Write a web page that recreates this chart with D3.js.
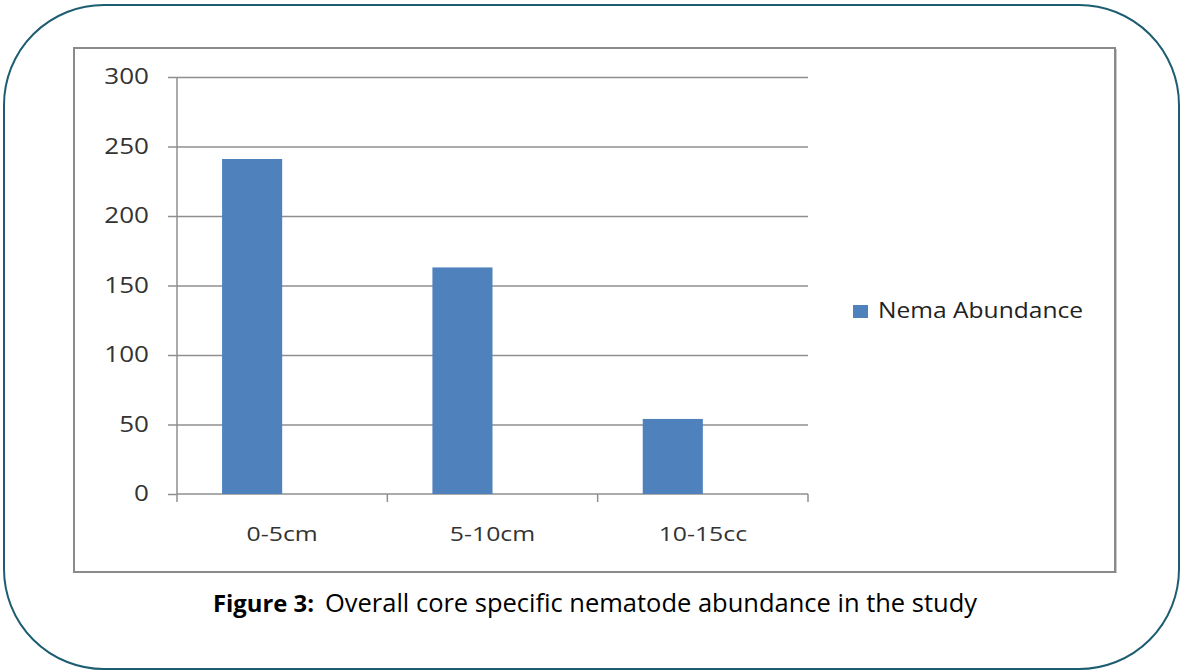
<!DOCTYPE html>
<html>
<head>
<meta charset="utf-8">
<script src="https://cdn.jsdelivr.net/npm/d3@7"></script>
<style>
  body { margin: 0; background: #fff; }
  svg { display: block; }
</style>
</head>
<body>
<svg id="chart" width="1181" height="670" viewBox="0 0 1181 670"></svg>
<script>
// data
const categories = ["0-5cm", "5-10cm", "10-15cc"];
const seriesNames = ["Nema Abundance", ""]; // second slot is empty in the original
const abundance = [241, 163, 54];
const yTicks = [0, 50, 100, 150, 200, 250, 300];
const captionBold = "Figure 3:";
const captionText = "Overall core specific nematode abundance in the study";

const svg = d3.select("#chart");
const barColor = "#4f81bd";
const gridColor = "#8f8f8f";
const sx = 1.24; // chart image looks stretched sideways

// outer rounded frame
svg.append("rect")
  .attr("x", 4).attr("y", 5)
  .attr("width", 1175).attr("height", 664)
  .attr("rx", 100).attr("ry", 100)
  .attr("fill", "none")
  .attr("stroke", "#1d5d72")
  .attr("stroke-width", 2);

// chart box
svg.append("rect")
  .attr("x", 74).attr("y", 48)
  .attr("width", 1041).attr("height", 524)
  .attr("fill", "#fff")
  .attr("stroke", "#8a8a8a")
  .attr("stroke-width", 2);
svg.append("line")
  .attr("x1", 1116.5).attr("x2", 1116.5)
  .attr("y1", 49).attr("y2", 573)
  .attr("stroke", "#c8c8c8").attr("stroke-width", 1);

const margin = { left: 177, top: 77 };
const width = 808 - 177;
const height = 494 - 77;

const g = svg.append("g")
  .attr("transform", `translate(${margin.left},${margin.top})`);

const x = d3.scaleBand().domain(categories).range([0, width]);
// excel style: two series slots, gap width 150%
const xInner = d3.scaleBand()
  .domain(seriesNames)
  .range([0, x.bandwidth()])
  .paddingInner(0)
  .paddingOuter(0.75);
const y = d3.scaleLinear().domain([0, 300]).range([height, 0]);

// gridlines
g.append("g")
  .call(d3.axisLeft(y).tickValues(yTicks.slice(1)).tickSize(-width).tickFormat(""))
  .call(a => a.select(".domain").remove())
  .call(a => a.selectAll("line").attr("stroke", gridColor).attr("stroke-width", 1.5));

// y axis
g.append("g")
  .call(d3.axisLeft(y).tickValues(yTicks).tickSize(9).tickPadding(0))
  .call(a => a.select(".domain").attr("d", `M0,${height}V0`).attr("stroke", gridColor).attr("stroke-width", 1.5))
  .call(a => a.selectAll("line").attr("stroke", gridColor).attr("stroke-width", 1.5))
  .call(a => a.selectAll("text")
    .attr("x", -28 / sx)
    .attr("transform", `scale(${sx},1)`)
    .attr("fill", "#333")
    .style("font-family", "'Open Sans', sans-serif")
    .style("font-size", "21px"));

// x axis
const xAxis = g.append("g")
  .attr("transform", `translate(0,${height})`)
  .call(d3.axisBottom(x).tickSize(0).tickPadding(0))
  .call(a => a.select(".domain").attr("d", `M0,0H${width}`).attr("stroke", gridColor).attr("stroke-width", 1.5))
  .call(a => a.selectAll("text")
    .attr("y", 33)
    .attr("transform", `scale(${sx},1)`)
    .attr("fill", "#333")
    .style("font-family", "'Open Sans', sans-serif")
    .style("font-size", "20px"));

// category boundary ticks
xAxis.selectAll(".edge")
  .data(categories.map(c => x(c)).concat([width]))
  .enter().append("line")
  .attr("class", "edge")
  .attr("x1", d => d).attr("x2", d => d)
  .attr("y1", 0).attr("y2", 8)
  .attr("stroke", gridColor).attr("stroke-width", 1.5);

// bars
g.selectAll(".bar")
  .data(abundance)
  .enter().append("rect")
  .attr("class", "bar")
  .attr("x", (d, i) => x(categories[i]) + xInner(seriesNames[0]))
  .attr("width", xInner.bandwidth())
  .attr("y", d => y(d))
  .attr("height", d => height - y(d))
  .attr("fill", barColor);

// legend
const legend = svg.append("g").attr("transform", "translate(853,305)");
legend.append("rect")
  .attr("width", 15).attr("height", 13)
  .attr("fill", barColor);
legend.append("text")
  .attr("x", 25).attr("y", 13)
  .attr("fill", "#222")
  .attr("textLength", 205)
  .attr("lengthAdjust", "spacingAndGlyphs")
  .style("font-family", "'Open Sans', sans-serif")
  .style("font-size", "22px")
  .text(seriesNames[0]);

// caption, bold label and plain text side by side
svg.append("text")
  .attr("x", 213).attr("y", 612)
  .attr("textLength", 101)
  .attr("lengthAdjust", "spacingAndGlyphs")
  .attr("fill", "#000")
  .style("font-family", "'Open Sans', sans-serif")
  .style("font-weight", "bold")
  .style("font-size", "24px")
  .text(captionBold);
svg.append("text")
  .attr("x", 325).attr("y", 612)
  .attr("textLength", 652)
  .attr("lengthAdjust", "spacingAndGlyphs")
  .attr("fill", "#000")
  .style("font-family", "'Open Sans', sans-serif")
  .style("font-size", "25px")
  .text(captionText);
</script>
</body>
</html>
